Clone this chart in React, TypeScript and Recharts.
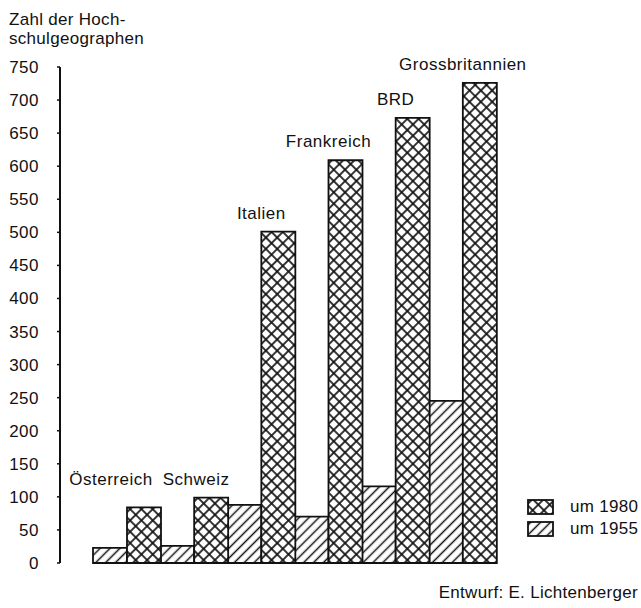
import React from "react";
import { BarChart, Bar, XAxis, YAxis, LabelList } from "recharts";

const countries = ["Österreich", "Schweiz", "Italien", "Frankreich", "BRD", "Grossbritannien"];
const um1955 = [23, 26, 88, 70, 116, 245];
const um1980 = [84, 99, 501, 609, 673, 726];
const yTicks = [0, 50, 100, 150, 200, 250, 300, 350, 400, 450, 500, 550, 600, 650, 700, 750];

const data = countries.map((country, i) => ({
  country,
  v1955: um1955[i],
  v1980: um1980[i],
}));

const FONT = "'Liberation Sans', Arial, Helvetica, sans-serif";
const TXT = {
  fontFamily: FONT,
  fontSize: 17,
  fill: "#111",
  letterSpacing: 0.5,
};

function Patterns() {
  return (
    <svg width={0} height={0} style={{ position: "absolute" }}>
      <defs>
        <pattern id="hatch" patternUnits="userSpaceOnUse" width={7} height={7} patternTransform="rotate(45)">
          <rect width={7} height={7} fill="#fff" />
          <line x1={3.5} y1={0} x2={3.5} y2={7} stroke="#111" strokeWidth={1.5} />
        </pattern>
        <pattern id="cross" patternUnits="userSpaceOnUse" width={8} height={8} patternTransform="rotate(45)">
          <rect width={8} height={8} fill="#fff" />
          <line x1={4} y1={0} x2={4} y2={8} stroke="#111" strokeWidth={1.7} />
          <line x1={0} y1={4} x2={8} y2={4} stroke="#111" strokeWidth={1.7} />
        </pattern>
      </defs>
    </svg>
  );
}

// country name above the pair; x is the 1980 bar, so shift back to the category centre
const CountryLabel = (props: any) => {
  const { x, y, width, height, index, value } = props;
  const perUnit = height / um1980[index];
  const bottom = y + height;
  let cx = x;
  let ty = y - 13;
  if (index < 2) {
    // Österreich / Schweiz share one line
    const top = bottom - Math.max(um1980[0], um1980[1]) * perUnit;
    ty = top - 13;
    cx = index === 0 ? x - 16 : x + 2;
  }
  return (
    <text x={cx} y={ty} textAnchor="middle" style={TXT}>
      {value}
    </text>
  );
};

const YTick = (props: any) => {
  const { x, y, payload } = props;
  return (
    <text x={x} y={y} dy={6} textAnchor="end" style={TXT}>
      {payload.value}
    </text>
  );
};

function LegendRow({ fill, label }: { fill: string; label: string }) {
  return (
    <div style={{ display: "flex", alignItems: "center", height: 22 }}>
      <svg width={28} height={16}>
        <rect x={1} y={1} width={25} height={14} fill={fill} stroke="#111" strokeWidth={1.8} />
      </svg>
      <span style={{ marginLeft: 15, fontFamily: FONT, fontSize: 17, color: "#111", letterSpacing: 0.3 }}>{label}</span>
    </div>
  );
}

export default function App() {
  return (
    <div style={{ position: "absolute", left: 0, top: 0, width: 641, height: 608, background: "#fff" }}>
      <Patterns />
      <div
        style={{
          position: "absolute",
          left: 9,
          top: 10,
          fontFamily: FONT,
          fontSize: 17,
          lineHeight: "19px",
          color: "#111",
          letterSpacing: 0.3,
        }}
      >
        Zahl der Hoch-
        <br />
        schulgeographen
      </div>
      <BarChart
        width={641}
        height={608}
        data={data}
        barGap={0}
        barCategoryGap={0}
        margin={{ top: 67, right: 145, bottom: 45, left: 0 }}
      >
        <XAxis dataKey="country" hide padding={{ left: 33, right: 0 }} />
        <YAxis
          width={60}
          domain={[0, 750]}
          ticks={yTicks}
          interval={0}
          axisLine={{ stroke: "#111", strokeWidth: 2 }}
          tickLine={{ stroke: "#111", strokeWidth: 1.5 }}
          tickSize={3}
          tickMargin={18}
          tick={<YTick />}
        />
        <Bar dataKey="v1955" fill="url(#hatch)" stroke="#111" strokeWidth={1.8} isAnimationActive={false} />
        <Bar dataKey="v1980" fill="url(#cross)" stroke="#111" strokeWidth={1.8} isAnimationActive={false}>
          <LabelList dataKey="country" content={<CountryLabel />} />
        </Bar>
      </BarChart>
      <div style={{ position: "absolute", left: 527, top: 496 }}>
        <LegendRow fill="url(#cross)" label="um 1980" />
        <LegendRow fill="url(#hatch)" label="um 1955" />
      </div>
      <div
        style={{
          position: "absolute",
          right: 3,
          top: 583,
          fontFamily: FONT,
          fontSize: 17,
          color: "#111",
          letterSpacing: 0.3,
        }}
      >
        Entwurf: E. Lichtenberger
      </div>
    </div>
  );
}
